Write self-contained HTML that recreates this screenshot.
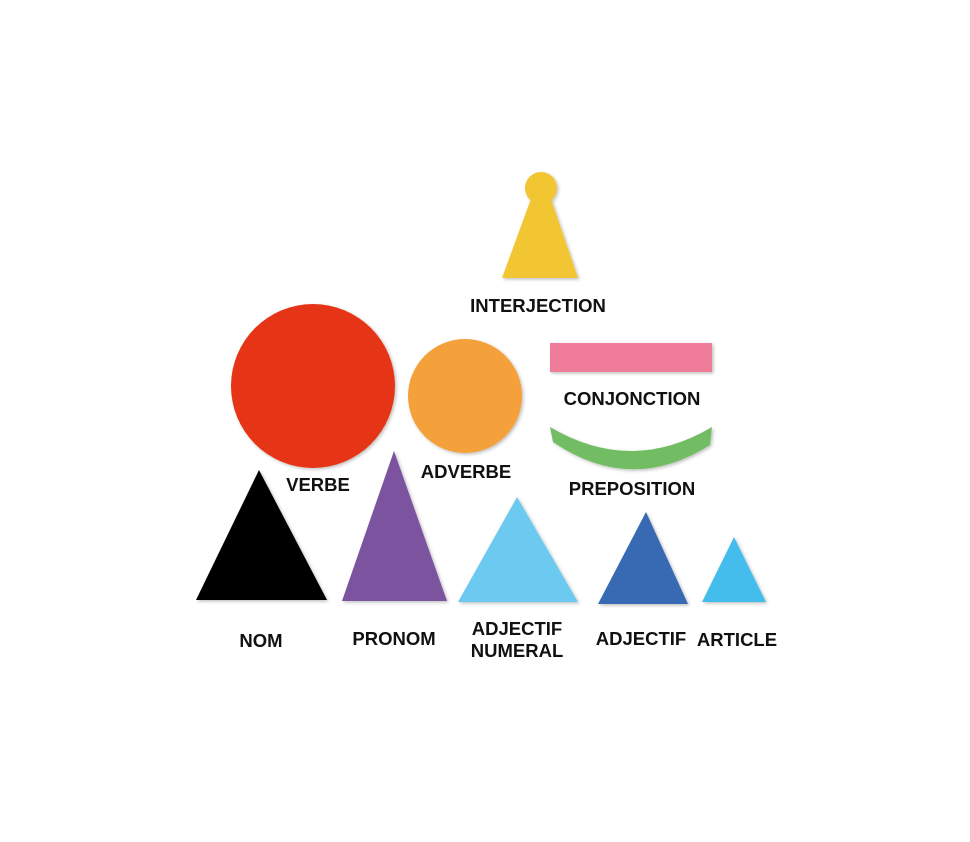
<!DOCTYPE html>
<html><head><style>
html,body{margin:0;padding:0;background:#fff;}
svg{display:block;}
text{font-family:"Liberation Sans",Arial,sans-serif;font-weight:bold;font-size:18.5px;fill:#111;text-anchor:middle;}
</style></head><body>
<svg width="970" height="842" viewBox="0 0 970 842" xmlns="http://www.w3.org/2000/svg">
<defs><filter id="s" x="-10%" y="-10%" width="130%" height="130%"><feDropShadow dx="1.5" dy="1.5" stdDeviation="1.5" flood-color="#000" flood-opacity="0.25"/></filter></defs>
<g filter="url(#s)">
<circle cx="541" cy="188" r="16" fill="#f2c531"/>
<polygon points="532,196 550,196 578,278 502,278" fill="#f2c531"/>
<rect x="550" y="343" width="162" height="29" fill="#ef7b98"/>
<path d="M550,427 Q631,475 712,427 L710,445 Q631,495 553,442 Z" fill="#72bd63"/>
<circle cx="313" cy="386" r="82" fill="#e53613"/>
<circle cx="465" cy="396" r="57" fill="#f4a03a"/>
<polygon points="259,470 327,600 196,600" fill="#050505"/>
<polygon points="394,451 447,601 342,601" fill="#7b529f"/>
<polygon points="517,497 578,602 458,602" fill="#6ccaf1"/>
<polygon points="646,512 688,604 598,604" fill="#376bb3"/>
<polygon points="734,537 766,602 702,602" fill="#45bdec"/>
</g>
<text x="538" y="312">INTERJECTION</text>
<text x="632" y="405">CONJONCTION</text>
<text x="632" y="495">PREPOSITION</text>
<text x="318" y="491">VERBE</text>
<text x="466" y="478">ADVERBE</text>
<text x="261" y="647">NOM</text>
<text x="394" y="645">PRONOM</text>
<text x="517" y="635">ADJECTIF</text>
<text x="517" y="657">NUMERAL</text>
<text x="641" y="645">ADJECTIF</text>
<text x="737" y="646">ARTICLE</text>
</svg>
</body></html>
